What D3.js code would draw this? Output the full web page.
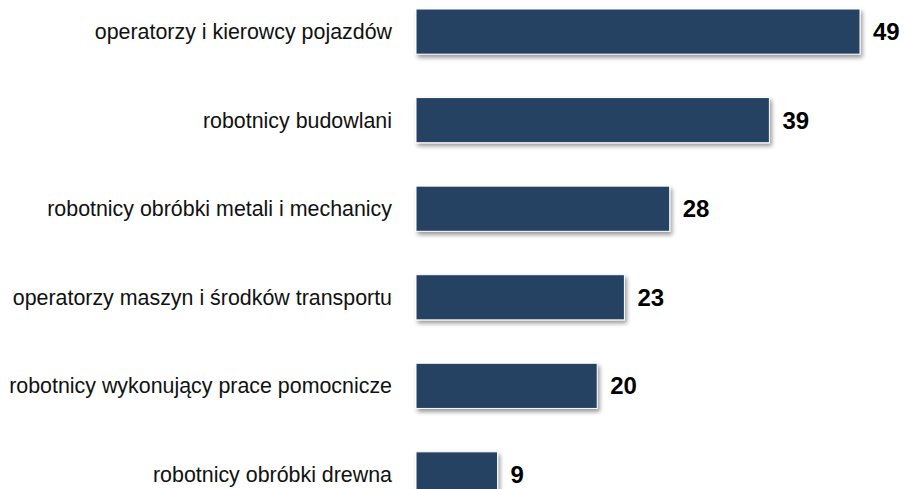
<!DOCTYPE html>
<html>
<head>
<meta charset="utf-8">
<script src="https://cdn.jsdelivr.net/npm/d3@7"></script>
<style>
  html, body { margin: 0; padding: 0; background: #fff; }
  svg { display: block; }
</style>
</head>
<body>
<div id="chart"></div>
<script>
const categories = [
  "operatorzy i kierowcy pojazdów",
  "robotnicy budowlani",
  "robotnicy obróbki metali i mechanicy",
  "operatorzy maszyn i środków transportu",
  "robotnicy wykonujący prace pomocnicze",
  "robotnicy obróbki drewna"
];
const values = [49, 39, 28, 23, 20, 9];

const width = 904;
const height = 489;

const data = categories.map((c, i) => ({ category: c, value: values[i] }));

const svg = d3.select("#chart")
  .append("svg")
    .attr("width", width)
    .attr("height", height)
    .attr("viewBox", [0, 0, width, height]);

// soft drop shadow under each bar
const filter = svg.append("defs")
  .append("filter")
    .attr("id", "shadow")
    .attr("x", "-10%")
    .attr("y", "-20%")
    .attr("width", "130%")
    .attr("height", "160%");
filter.append("feDropShadow")
    .attr("dx", 2)
    .attr("dy", 3)
    .attr("stdDeviation", 2)
    .attr("flood-color", "#000")
    .attr("flood-opacity", 0.4);

const xScale = d3.scaleLinear()
  .domain([0, 49])
  .range([416, 860]);

const yScale = d3.scaleBand()
  .domain(categories)
  .range([9, 497])
  .paddingInner(0.49)
  .paddingOuter(0);

// Bars
svg.append("g")
    .attr("class", "bars")
  .selectAll("rect")
  .data(data)
  .join("rect")
    .attr("x", xScale(0))
    .attr("y", d => yScale(d.category))
    .attr("width", d => xScale(d.value) - xScale(0))
    .attr("height", yScale.bandwidth())
    .attr("fill", "#264264")
    .attr("stroke", "#ffffff")
    .attr("stroke-width", 1)
    .attr("filter", "url(#shadow)");

// Category labels on the left
svg.append("g")
    .attr("class", "labels")
  .selectAll("text")
  .data(data)
  .join("text")
    .attr("x", xScale(0) - 24)
    .attr("y", d => yScale(d.category) + yScale.bandwidth() / 2)
    .attr("dy", "0.35em")
    .attr("text-anchor", "end")
    .style("font-family", "'Liberation Sans', Arial, Helvetica, sans-serif")
    .style("font-size", "21.4px")
    .attr("fill", "#111")
    .text(d => d.category);

// Value labels
svg.append("g")
    .attr("class", "values")
  .selectAll("text")
  .data(data)
  .join("text")
    .attr("x", d => xScale(d.value) + 13)
    .attr("y", d => yScale(d.category) + yScale.bandwidth() / 2)
    .attr("dy", "0.35em")
    .style("font-family", "'Liberation Sans', Arial, Helvetica, sans-serif")
    .style("font-size", "24px")
    .style("font-weight", "bold")
    .attr("fill", "#000")
    .text(d => d.value);
</script>
</body>
</html>
